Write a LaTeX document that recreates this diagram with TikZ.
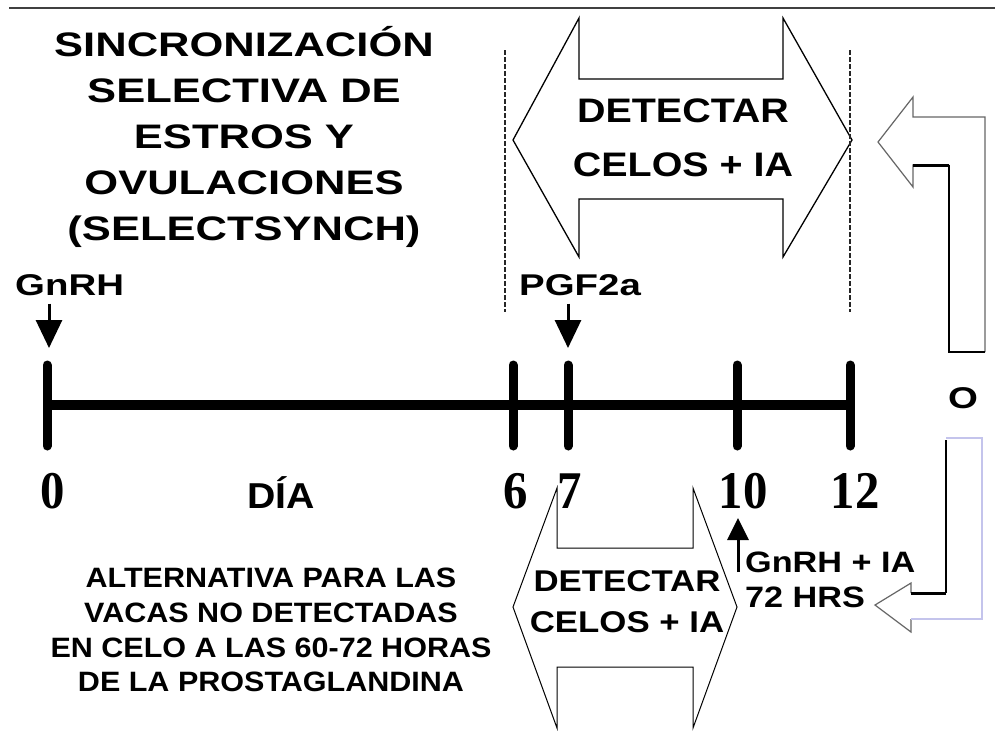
\documentclass[tikz,border=0pt]{standalone}
\usepackage{fontspec}
\setmainfont{Liberation Sans}
\newfontfamily\wideA[FakeStretch=1.28]{Liberation Sans}
\newfontfamily\wideB[FakeStretch=1.16]{Liberation Sans}
\newfontfamily\wideC[FakeStretch=1.09]{Liberation Sans}
\newfontfamily\numfont[FakeStretch=0.92]{Liberation Serif}
\usetikzlibrary{arrows.meta}
\definecolor{lavender}{RGB}{196,196,236}

\begin{document}
\begin{tikzpicture}[
    x=1pt, y=-1pt,
    every node/.style={inner sep=0pt},
    tick/.style={line width=9pt, line cap=round},
    axis/.style={line width=10pt},
    dose/.style={line width=3pt, -{Triangle[length=28pt,width=26pt]}},
    window/.style={draw, line width=1.3pt, line join=miter},
    guide/.style={dash pattern=on 5pt off 2pt, line width=2.6pt, black!85},
    daynum/.style={anchor=base, font=\numfont\bfseries\fontsize{53}{53}\selectfont},
  ]
  \fill[white] (0,0) rectangle (995,732);
  \useasboundingbox (0,0) rectangle (995,732);
  \draw[line width=2pt, black!75] (9,8) -- (995,8);

  % title
  \node[anchor=base, align=center, font=\wideA\bfseries\fontsize{34}{46}\selectfont] (title) at (244,240)
    {SINCRONIZACIÓN\\SELECTIVA DE\\ESTROS Y\\OVULACIONES\\(SELECTSYNCH)};

  % detection windows
  \draw[window] (513,140) -- (579,18) -- (579,79) -- (783,79) -- (783,18) -- (852,140)
    -- (783,257) -- (783,199) -- (579,199) -- (579,257) -- cycle;
  \node[align=center, font=\wideB\bfseries\fontsize{34}{54}\selectfont] (celos) at (683,138)
    {DETECTAR\\CELOS + IA};
  \draw[guide] (505,50) -- (505,312);
  \draw[guide] (850,50) -- (850,312);

  \draw[window, line width=1pt] (513,607) -- (557,488) -- (557,548) -- (693,548) -- (693,488) -- (737,607)
    -- (693,728) -- (693,667) -- (557,667) -- (557,728) -- cycle;
  \node[align=center, font=\wideB\bfseries\fontsize{30}{41}\selectfont] (celos2) at (627,602)
    {DETECTAR\\CELOS + IA};

  % time line
  \foreach \d/\x in {0/47,6/513,7/568,10/737,12/850} {
    \coordinate (t\d) at (\x,405);
    \draw[tick] (\x,365) -- (\x,446);
  }
  \draw[axis] (t0) -- (t12);
  \foreach \d/\x in {0/53,6/516,7/570,10/743,12/855}
    \node[daynum] (n\d) at (\x,508) {\d};
  \node[anchor=base, font=\wideC\bfseries\fontsize{36}{36}\selectfont] (dia) at (281,508) {DÍA};

  % treatments
  \node[anchor=base west, font=\wideA\bfseries\fontsize{30}{30}\selectfont] (gnrh) at (15,295) {GnRH};
  \coordinate (in0) at (49,348);
  \draw[dose, shorten <=8pt] (gnrh.south -| in0) -- (in0);
  \node[anchor=base west, font=\wideA\bfseries\fontsize{30}{30}\selectfont] (pgf) at (519,295) {PGF2a};
  \coordinate (in7) at (568,348);
  \draw[dose, shorten <=8pt] (pgf.south -| in7) -- (in7);

  \node[anchor=north west, align=left, font=\wideB\bfseries\fontsize{29.5}{35}\selectfont] (gnia) at (745,552)
    {GnRH + IA\\72 HRS};
  \coordinate (in10) at (738,518);
  \draw[line width=3pt, -{Triangle[length=22pt,width=21pt]}] (in10 |- gnia.west) ++(0,-8) -- (in10);

  \node[align=center, font=\wideC\bfseries\fontsize{28}{34.7}\selectfont] (alt) at (271,630)
    {ALTERNATIVA PARA LAS\\VACAS NO DETECTADAS\\EN CELO A LAS 60-72 HORAS\\DE LA PROSTAGLANDINA};

  % O and return arrows
  \node[font=\wideA\bfseries\fontsize{30}{30}\selectfont] (ovul) at (963,398) {O};
  \draw[black!60, line width=1.2pt, line join=miter] (949,165) -- (913,165) -- (913,187) -- (878,142)
    -- (913,97) -- (913,117) -- (985,117) -- (985,352);
  \draw[line width=3pt] (913,165) -- (949,165);
  \draw[line width=1.6pt] (949,165) -- (949,352) -- (985,352);
  \draw[black!60, line width=1.2pt, line join=miter] (911,593) -- (911,583) -- (875,605) -- (911,632) -- (911,619);
  \draw[lavender, line width=1.4pt] (911,619) -- (982,619) -- (982,438) -- (946,438);
  \draw[line width=1.6pt] (946,440) -- (946,593);
  \draw[line width=3pt] (946,593) -- (911,593);
\end{tikzpicture}
\end{document}
